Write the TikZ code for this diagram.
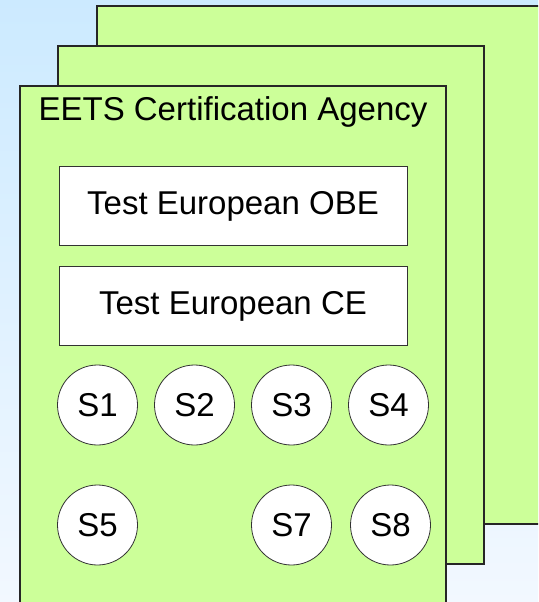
\documentclass[tikz,border=0pt]{standalone}
\usepackage{fontspec}
\setmainfont{Liberation Sans}
\usetikzlibrary{positioning}
\definecolor{sheetgreen}{RGB}{204,255,153}
\definecolor{skytop}{RGB}{204,234,255}
\definecolor{skybottom}{RGB}{242,248,255}
\tikzset{x=1pt, y=-1pt, % one unit is one pixel of the page, y runs downwards
sheet/.style={draw=black!85, line width=1.3pt, fill=sheetgreen}, % the stacked agency sheets
testbox/.style={draw=black!80, line width=1pt, fill=white, minimum width=348pt, minimum height=79pt}, % the two test boxes
site/.style={circle, draw=black!80, line width=0.8pt, fill=white, minimum size=80pt, inner sep=0pt}, % the S nodes
node distance=97pt, % spacing between the S nodes in a row
every node/.style={font=\fontsize{33}{40}\selectfont},
}
\begin{document}
\begin{tikzpicture}
\useasboundingbox (0,0) rectangle (538,602);
\clip (0,0) rectangle (538,602);
\shade[top color=skytop, bottom color=skybottom] (0,0) rectangle (538,602);
% the three sheets, back to front
\draw[sheet] (97,6) rectangle (560,524);
\draw[sheet] (58,46) rectangle (484,564);
\draw[sheet] (20,86) rectangle (446,620);
\node (agency) at (233,112) {EETS Certification Agency};
\node[testbox] (obe) at (233,206) {Test European OBE};
\node[testbox] (ce) at (233,306) {Test European CE};
\node[site] (s1) at (97.5,405) {S1};
\node[site, right of=s1] (s2) {S2};
\node[site, right of=s2] (s3) {S3};
\node[site, right of=s3] (s4) {S4};
\node[site, below of=s1, node distance=120pt] (s5) {S5};
\node[site, below of=s3, node distance=120pt] (s7) {S7};
\node[site, below of=s4, node distance=120pt, xshift=2pt] (s8) {S8};
\end{tikzpicture}
\end{document}
